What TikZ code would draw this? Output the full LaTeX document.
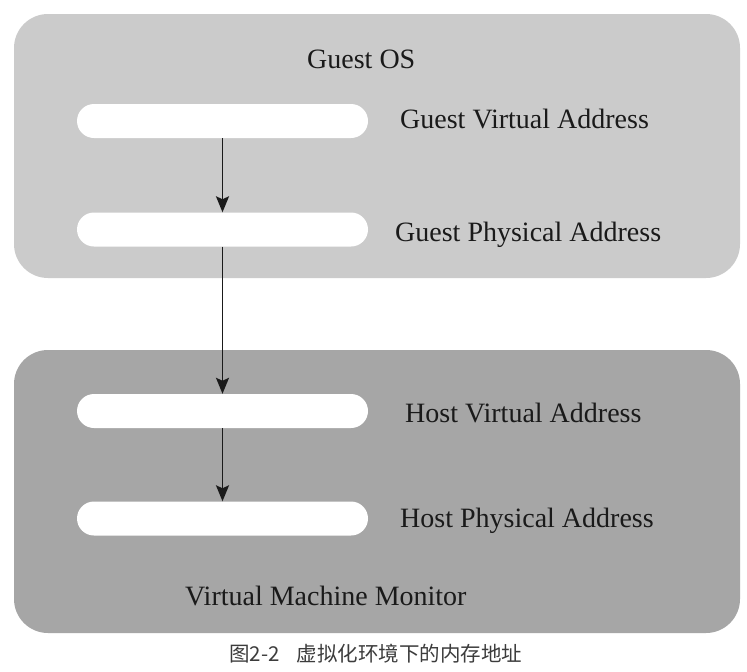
\documentclass[tikz,border=0pt]{standalone}
\usepackage{fontspec}
\setmainfont{Liberation Serif}
\newfontfamily\cjk{Noto Sans CJK SC}
\usetikzlibrary{arrows.meta}
\definecolor{guestgray}{HTML}{CBCBCB}
\definecolor{hostgray}{HTML}{A6A6A6}
\definecolor{inkcol}{HTML}{1A1A1A}
\tikzset{
  panel/.style={rectangle, rounded corners=34pt, inner sep=0pt, draw=none},
  addrbar/.style={rectangle, rounded corners=17pt, fill=white, draw=none,
    minimum width=291pt, minimum height=34pt, inner sep=0pt},
  lbl/.style={anchor=base west, inner sep=0pt, text=inkcol,
    font=\fontsize{28}{32}\selectfont},
  flow/.style={draw=inkcol, line width=1.9pt,
    -{Stealth[length=16pt, width=13pt, inset=3pt]}}
}
\begin{document}
\begin{tikzpicture}[x=1pt, y=-1pt]
\useasboundingbox[fill=white] (0,0) rectangle (747,672);
% panels
\node[panel, fill=guestgray, minimum width=726pt, minimum height=264pt] (guest) at (377,146) {};
\node[panel, fill=hostgray, minimum width=726pt, minimum height=283pt] (host) at (377,491.5) {};
% address bars
\node[addrbar] (gva) at (222.5,121) {};
\node[addrbar] (gpa) at (222.5,229.5) {};
\node[addrbar] (hva) at (222.5,411) {};
\node[addrbar] (hpa) at (222.5,518.5) {};
% labels
\node[lbl] (tguest) at (307,68) {Guest OS};
\node[lbl] (tgva) at (400,128) {Guest Virtual Address};
\node[lbl] (tgpa) at (395,241) {Guest Physical Address};
\node[lbl] (thva) at (405,422) {Host Virtual Address};
\node[lbl] (thpa) at (400,527) {Host Physical Address};
\node[lbl] (tvmm) at (185,605) {Virtual Machine Monitor};
% arrows
\draw[flow] (gva.south) -- (gpa.north);
\draw[flow] (gpa.south) -- (hva.north);
\draw[flow] (hva.south) -- (hpa.north);
% caption
\node[anchor=west, inner sep=0pt, text=inkcol!85, font=\cjk\fontsize{20.5}{24}\selectfont] (caption) at (229,653.5) {图2-2\hspace{0.85em}虚拟化环境下的内存地址};
\end{tikzpicture}
\end{document}
